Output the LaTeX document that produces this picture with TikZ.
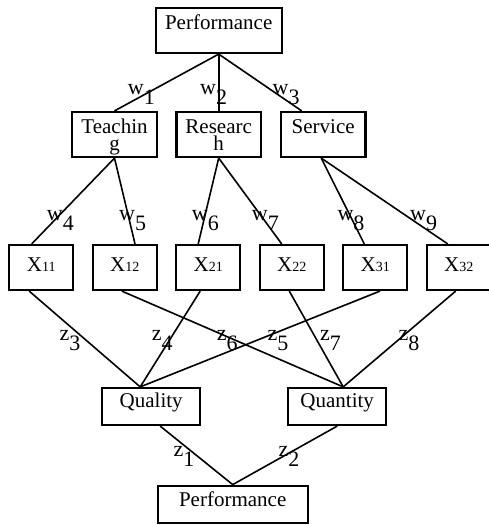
\documentclass[tikz,border=0pt]{standalone}
\usepackage{fontspec}
\setmainfont{Liberation Serif}
\newcommand{\sublab}[2]{#1\raisebox{-10pt}{#2}}
\newcommand{\xsub}[1]{{\fontsize{14}{14}\selectfont #1}}

\begin{document}
\begin{tikzpicture}[x=1pt, y=-1pt,
    box/.style={draw, line width=2.2pt, inner sep=0pt, text height=21pt, text depth=24pt,
      font=\fontsize{21}{17.5}\selectfont},
    xbox/.style={box, minimum width=64pt, text height=26pt, text depth=19pt},
    lowbox/.style={box, text height=19pt, text depth=18pt},
    edge/.style={line width=1.6pt},
    lab/.style={anchor=base west, inner sep=0pt, font=\fontsize{22}{22}\selectfont}]
  \useasboundingbox (0,0) rectangle (488,525);

  \node[box, minimum width=126pt] (perf) at (218.7,30.5) {Performance};
  \node[box, text width=84.4pt, align=center] (teach) at (114.5,134.5) {Teachin\\g};
  \node[box, text width=84.4pt, align=center] (res) at (218.7,134.5) {Researc\\h};
  \node[box, minimum width=84.4pt] (serv) at (323.2,134.5) {Service};

  \node[xbox] (x11) at (41.2,267.5) {X\xsub{11}};
  \node[xbox] (x12) at (124.8,267.5) {X\xsub{12}};
  \node[xbox] (x21) at (208.2,267.5) {X\xsub{21}};
  \node[xbox] (x22) at (291.7,267.5) {X\xsub{22}};
  \node[xbox] (x31) at (375.3,267.5) {X\xsub{31}};
  \node[xbox] (x32) at (458.7,267.5) {X\xsub{32}};

  \node[lowbox, minimum width=97.7pt] (qual) at (151.2,406.5) {Quality};
  \node[lowbox, minimum width=97.7pt] (quan) at (337.2,406.5) {Quantity};
  \node[box, minimum width=150pt, text depth=16pt] (perfb) at (232.7,504.2) {Performance};

  \draw[edge] (perf.south) -- (teach.north);
  \draw[edge] (perf.south) -- (res.north);
  \draw[edge] (perf.south) -- ([xshift=-21.5pt]serv.north);

  \draw[edge] (teach.south) -- ([xshift=-9.5pt]x11.north);
  \draw[edge] (teach.south) -- ([xshift=10.2pt]x12.north);
  \draw[edge] (res.south) -- ([xshift=-10pt]x21.north);
  \draw[edge] (res.south) -- ([xshift=-10pt]x22.north);
  \draw[edge] ([xshift=-2pt]serv.south) -- ([xshift=-11pt]x31.north);
  \draw[edge] ([xshift=-2pt]serv.south) -- ([xshift=-11pt]x32.north);

  \draw[edge] ([xshift=-12pt]x11.south) -- ([xshift=-11pt]qual.north);
  \draw[edge] ([xshift=-8pt]x21.south) -- ([xshift=-11pt]qual.north);
  \draw[edge] ([xshift=4.7pt]x31.south) -- ([xshift=-11pt]qual.north);
  \draw[edge] ([xshift=-3pt]x12.south) -- ([xshift=6pt]quan.north);
  \draw[edge] ([xshift=-2.4pt]x22.south) -- ([xshift=6pt]quan.north);
  \draw[edge] ([xshift=-3pt]x32.south) -- ([xshift=6pt]quan.north);

  \draw[edge] ([xshift=9pt]qual.south) -- (perfb.north);
  \draw[edge] (quan.south) -- (perfb.north);

  \node[lab] (w1) at (127.7,94) {\sublab{w}{1}};
  \node[lab] (w2) at (200,94) {\sublab{w}{2}};
  \node[lab] (w3) at (272.5,94) {\sublab{w}{3}};
  \node[lab] (w4) at (46.7,220) {\sublab{w}{4}};
  \node[lab] (w5) at (119,220) {\sublab{w}{5}};
  \node[lab] (w6) at (191.7,220) {\sublab{w}{6}};
  \node[lab] (w7) at (251.7,220) {\sublab{w}{7}};
  \node[lab] (w8) at (337.3,220) {\sublab{w}{8}};
  \node[lab] (w9) at (410,220) {\sublab{w}{9}};
  \node[lab] (z3) at (59.3,340) {\sublab{z}{3}};
  \node[lab] (z4) at (151.7,340) {\sublab{z}{4}};
  \node[lab] (z6) at (216.7,340) {\sublab{z}{6}};
  \node[lab] (z5) at (267.3,340) {\sublab{z}{5}};
  \node[lab] (z7) at (320,340) {\sublab{z}{7}};
  \node[lab] (z8) at (398.3,340) {\sublab{z}{8}};
  \node[lab] (z1) at (173.3,456) {\sublab{z}{1}};
  \node[lab] (z2) at (278.3,456) {\sublab{z}{2}};
\end{tikzpicture}
\end{document}
